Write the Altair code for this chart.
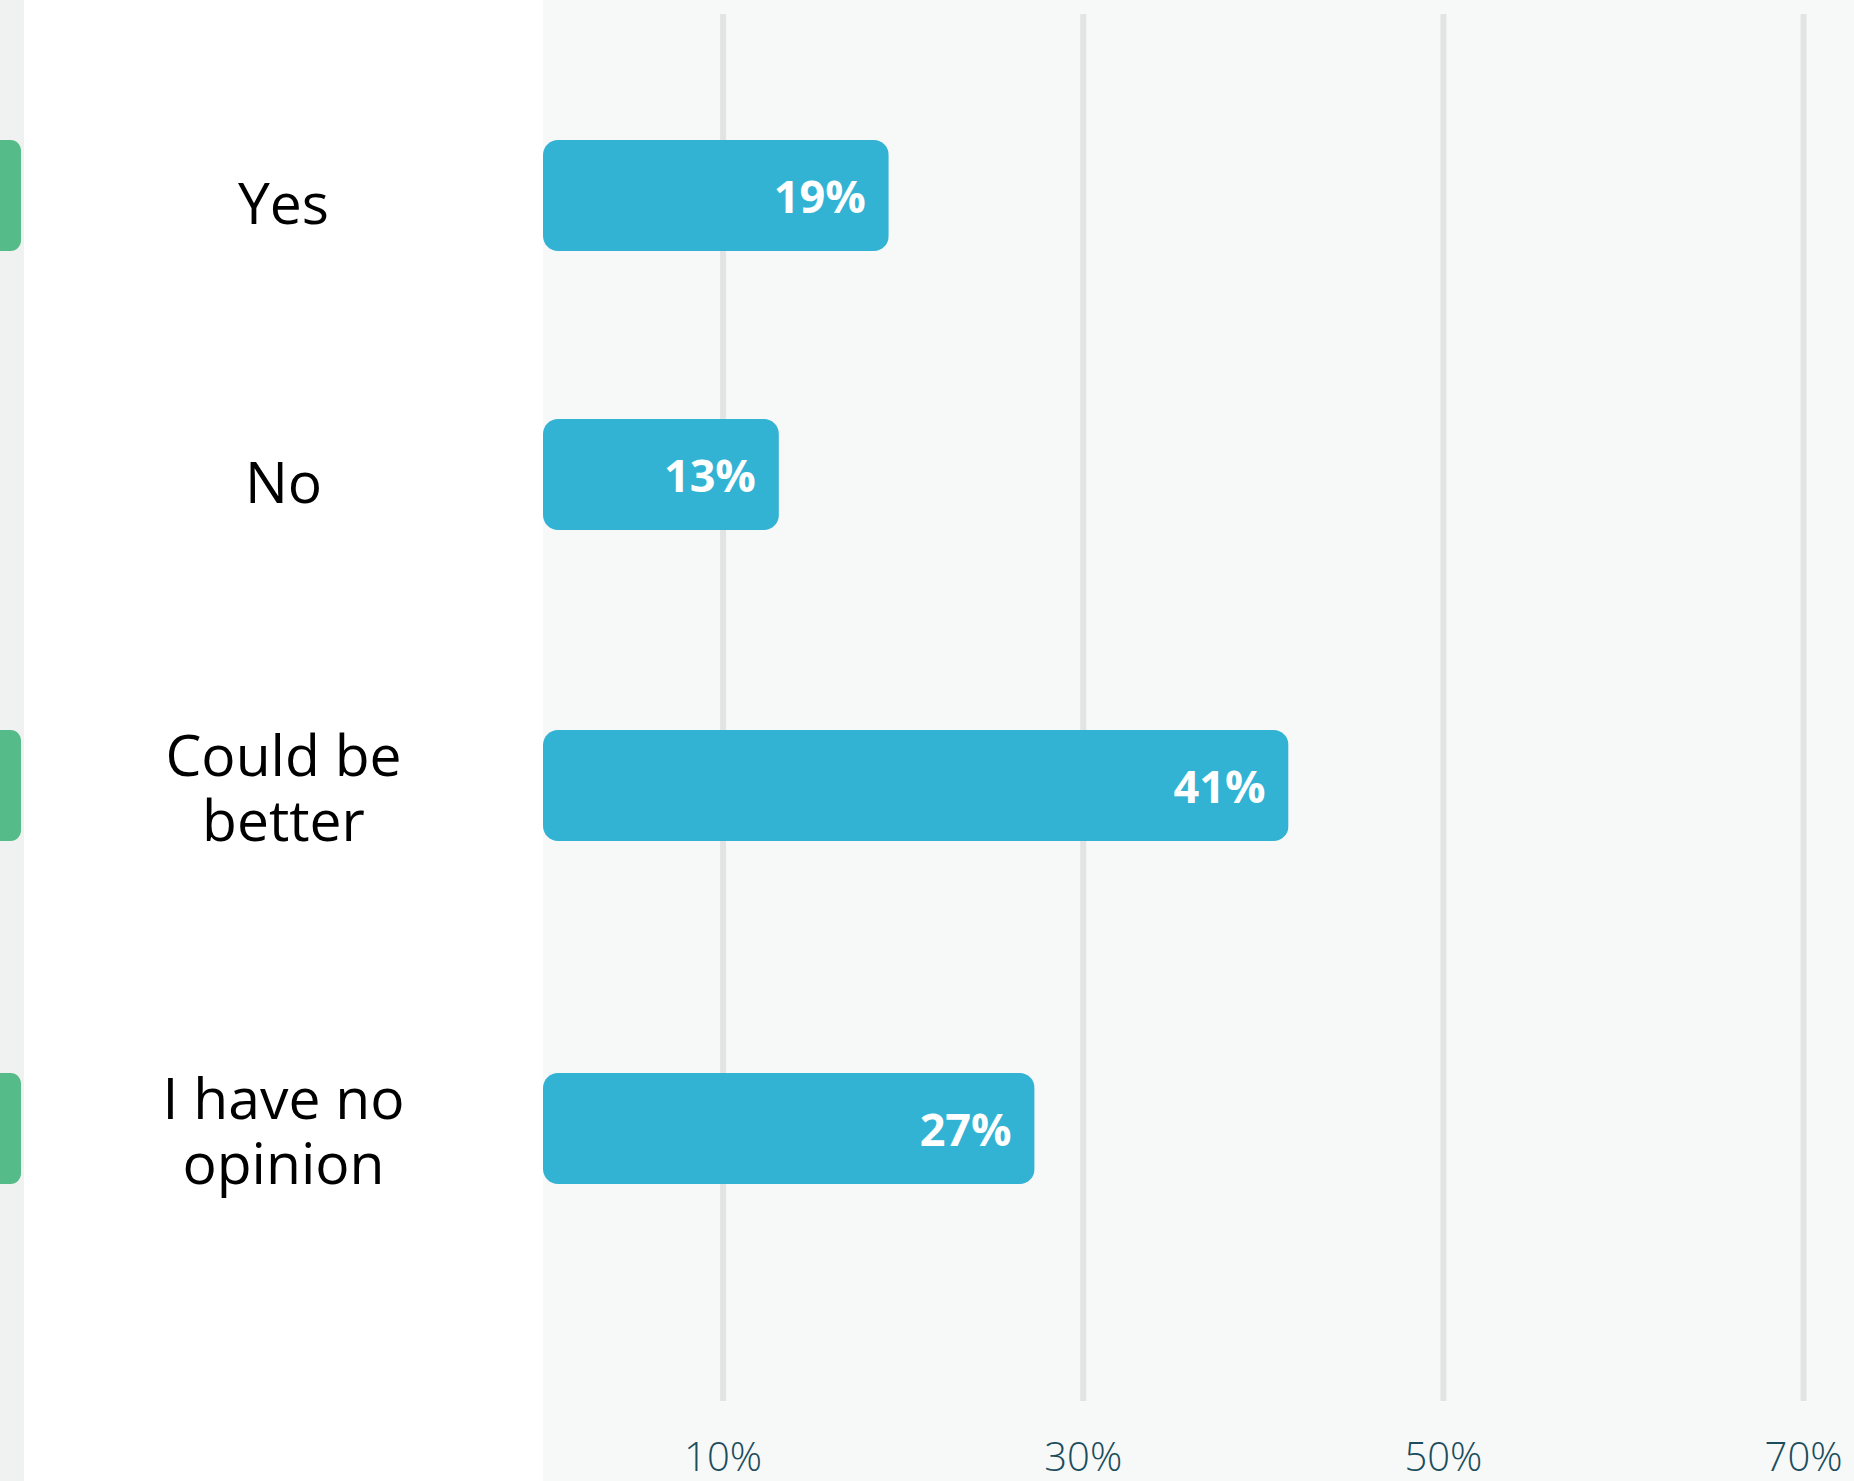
import altair as alt
import pandas as pd

# ---------------- data ----------------
categories = ["Yes", "No", "Could be better", "I have no opinion"]
label_text = ["Yes", "No", "Could be\nbetter", "I have no\nopinion"]
values = [19.2, 13.1, 41.4, 27.3]          # bar lengths (labels show them rounded)
# right ends of the neighbouring (cropped) chart's bars visible at the far left edge
neighbour_values = [7, 0, 7, 7]
tick_values = [10, 30, 50, 70]
tick_labels = ["10%", "30%", "50%", "70%"]

df = pd.DataFrame({
    "cat": categories,
    "label": label_text,
    "value": values,
    "neighbour": neighbour_values,
})
ticks = pd.DataFrame({"tick": tick_values, "tick_label": tick_labels})

# ---------------- styles ----------------
STRIP_W, LABEL_W, PLOT_W = 24, 519, 1311
STRIP_BG, LABEL_BG, PLOT_BG = "#f0f1f1", "#ffffff", "#f7f8f8"
GRID = "#e2e3e3"
BAR = "#33b3d4"
GREEN = "#55bb88"
AXIS_TXT = "#1a4d5d"
FONT = "Open Sans"
BAR_SIZE = 111
LINE_H = 65

xscale = alt.Scale(domain=[0, 72.8], nice=False, zero=True)
nscale = alt.Scale(domain=[0, 8], nice=False, zero=True)


def vb(fill):
    return alt.ViewBackground(fill=fill, strokeWidth=0)


def blank(w, h, fill):
    return (
        alt.Chart(pd.DataFrame({"v": [0]}))
        .mark_point(opacity=0)
        .properties(width=w, height=h, view=vb(fill))
    )


def grid(h):
    return (
        alt.Chart(ticks)
        .mark_rule(color=GRID, strokeWidth=6)
        .encode(x=alt.X("tick:Q", scale=xscale, axis=None))
        .properties(width=PLOT_W, height=h, view=vb(PLOT_BG))
    )


panels = []
# top margin (no grid)
panels += [blank(STRIP_W, 14, STRIP_BG), blank(LABEL_W, 14, LABEL_BG), blank(PLOT_W, 14, PLOT_BG)]
# spacer with grid
panels += [blank(STRIP_W, 42, STRIP_BG), blank(LABEL_W, 42, LABEL_BG), grid(42)]

for i, cat in enumerate(categories):
    n_lines = label_text[i].count("\n") + 1
    h = 215 + 64 * n_lines
    # centre the block of lines on the bar
    label_dy = 11 - (n_lines - 1) * 38
    row_df = df[df["cat"] == cat]

    ycat = alt.Y("cat:N", axis=None)

    strip_df = row_df[row_df["neighbour"] > 0]
    strip = (
        alt.Chart(strip_df)
        .mark_bar(color=GREEN, size=BAR_SIZE, cornerRadiusEnd=13)
        .encode(x=alt.X("neighbour:Q", scale=nscale, axis=None), y=ycat)
        .properties(width=STRIP_W, height=h, view=vb(STRIP_BG))
    )

    label = (
        alt.Chart(row_df)
        .transform_calculate(lines="split(datum.label, '\\n')")
        .mark_text(font=FONT, fontSize=57, lineHeight=LINE_H, color="#000000",
                   align="center", baseline="middle", dy=label_dy)
        .encode(text="lines:N")
        .properties(width=LABEL_W, height=h, view=vb(LABEL_BG))
    )

    g = alt.Chart(ticks).mark_rule(color=GRID, strokeWidth=6).encode(
        x=alt.X("tick:Q", scale=xscale, axis=None)
    )
    bars = alt.Chart(row_df).mark_bar(color=BAR, size=BAR_SIZE, cornerRadius=15).encode(
        x=alt.X("value:Q", scale=xscale, axis=None), y=ycat
    )
    txt = (
        alt.Chart(row_df)
        .transform_calculate(lbl="format(datum.value, '.0f') + '%'")
        .mark_text(font=FONT, fontSize=45, fontWeight="bold", color="#ffffff",
                   align="right", baseline="middle", dx=-23, dy=3)
        .encode(x=alt.X("value:Q", scale=xscale, axis=None), y=ycat, text="lbl:N")
    )
    plot = alt.layer(g, bars, txt).properties(width=PLOT_W, height=h, view=vb(PLOT_BG))

    panels += [strip, label, plot]

# bottom spacer with grid
panels += [blank(STRIP_W, 101, STRIP_BG), blank(LABEL_W, 101, LABEL_BG), grid(101)]

# x axis labels row
axis_txt = (
    alt.Chart(ticks)
    .mark_text(font=FONT, fontSize=40, fontWeight=300, color=AXIS_TXT,
               align="center", baseline="middle", dy=18)
    .encode(x=alt.X("tick:Q", scale=xscale, axis=None), text="tick_label:N")
    .properties(width=PLOT_W, height=80, view=vb(PLOT_BG))
)
panels += [blank(STRIP_W, 80, STRIP_BG), blank(LABEL_W, 80, LABEL_BG), axis_txt]

chart = (
    alt.concat(*panels, columns=3, spacing=0, bounds="flush")
    .resolve_scale(x="independent", y="independent")
    .properties(padding=0, background="#ffffff")
    .configure_view(strokeWidth=0)
)

chart.save("out.html", embed_options={"renderer": "svg", "actions": False})
